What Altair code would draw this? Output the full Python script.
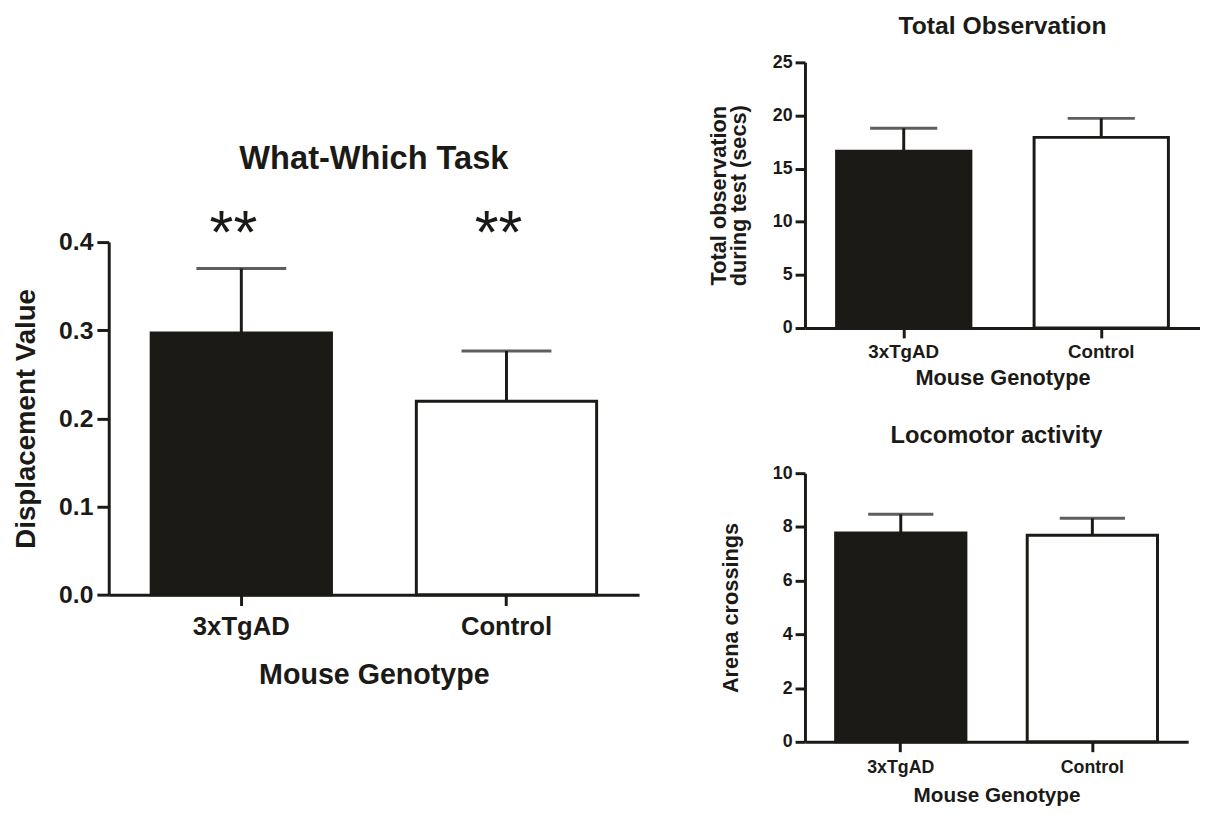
import altair as alt
import pandas as pd

# ---------------- data ----------------
genotypes = ["3xTgAD", "Control"]
fills = ["#1b1a17", "#ffffff"]

ww_mean = [0.297, 0.2195]
ww_sem = [0.073, 0.057]
ww_stars = ["**", "**"]

obs_mean = [16.64, 17.94]
obs_sem = [2.16, 1.79]

loco_mean = [7.77, 7.69]
loco_sem = [0.70, 0.63]

ww_ticks = [0.0, 0.1, 0.2, 0.3, 0.4]
obs_ticks = [0, 5, 10, 15, 20, 25]
loco_ticks = [0, 2, 4, 6, 8, 10]

INK = "#1b1a17"
FONT = "Liberation Sans"


def panel(mean, sem, title, ytitle, ticks, fmt, width, height, cap, s, stars=None):
    df = pd.DataFrame({
        "genotype": genotypes,
        "mean": mean,
        "upper": [m + e for m, e in zip(mean, sem)],
    })
    if stars is not None:
        df["stars"] = stars
    base = alt.Chart(df)
    x_axis = alt.Axis(title="Mouse Genotype", labelAngle=0, tickSize=s["xtick"],
                      labelPadding=s["xlabpad"], labelFontSize=s["xlab"],
                      titleFontSize=s["xtitle"], titlePadding=s["xtitlepad"])
    x_scale = alt.Scale(paddingInner=0.32, paddingOuter=0.16)
    y_axis = alt.Axis(title=ytitle, values=ticks, format=fmt, tickSize=s["ytick"],
                      labelPadding=s["ylabpad"], labelFontSize=s["ylab"],
                      titleFontSize=s["ytitle"], titlePadding=s["ytitlepad"],
                      titleLineHeight=s.get("ylh", 20))
    y_scale = alt.Scale(domain=[ticks[0], ticks[-1]], nice=False)
    x = alt.X("genotype:N", sort=genotypes, scale=x_scale, axis=x_axis)

    bars = base.mark_bar(stroke=INK, strokeWidth=3).encode(
        x=x,
        y=alt.Y("mean:Q", scale=y_scale, axis=y_axis),
        fill=alt.Fill("genotype:N", scale=alt.Scale(domain=genotypes, range=fills), legend=None),
    )
    stem = base.mark_rule(color=INK, strokeWidth=3).encode(
        x=x,
        y=alt.Y("mean:Q", scale=y_scale, axis=y_axis),
        y2="upper:Q",
    )
    capm = base.mark_tick(color=INK, thickness=3, size=cap, orient="horizontal").encode(
        x=x,
        y=alt.Y("upper:Q", scale=y_scale, axis=y_axis),
    )
    layers = [bars, stem, capm]
    if stars is not None:
        st = base.mark_text(font=FONT, fontSize=62, fontWeight="normal", baseline="alphabetic",
                            dy=11, dx=-8, color=INK).encode(
            x=x,
            y=alt.datum(ticks[-1]),
            text="stars:N",
        )
        layers.append(st)
    return alt.layer(*layers).properties(
        width=width, height=height,
        title=alt.TitleParams(title, fontSize=s["title"], offset=s["toff"], frame="group",
                              anchor="middle", font=FONT, fontWeight="bold", color=INK),
    )


left = panel(ww_mean, ww_sem, "What-Which Task", "Displacement Value", ww_ticks, ".1f",
             537, 357, 91,
             dict(xtick=11, xlabpad=8, xlab=26, xtitle=29, xtitlepad=22,
                  ytick=12, ylabpad=4, ylab=25, ytitle=28, ytitlepad=18,
                  title=33, toff=28),
             stars=ww_stars)

top_right = panel(obs_mean, obs_sem, "Total Observation",
                  ["Total observation", "during test (secs)"], obs_ticks, "d",
                  400, 269, 68,
                  dict(xtick=10, xlabpad=5, xlab=19, xtitle=22, xtitlepad=6,
                       ytick=10, ylabpad=3, ylab=18, ytitle=22, ytitlepad=22, ylh=20,
                       title=25, toff=15))

bottom_right = panel(loco_mean, loco_sem, "Locomotor activity", "Arena crossings",
                     loco_ticks, "d", 388, 272, 66,
                     dict(xtick=10, xlabpad=7, xlab=18, xtitle=21, xtitlepad=8,
                          ytick=10, ylabpad=3, ylab=18, ytitle=22, ytitlepad=30,
                          title=24, toff=17))

spacer = alt.Chart(pd.DataFrame({"s": [0]})).mark_rect(opacity=0).encode(
    x=alt.value(0), x2=alt.value(1), y=alt.value(0), y2=alt.value(1)
).properties(width=1, height=82)

left_col = alt.vconcat(spacer, left, spacing=0).resolve_scale(x="independent", y="independent")
right_col = alt.vconcat(top_right, bottom_right, spacing=36).resolve_scale(x="independent", y="independent")

chart = alt.hconcat(left_col, right_col, spacing=69).resolve_scale(
    x="independent", y="independent"
).properties(
    padding={"top": 1, "left": 5, "right": 0, "bottom": 0},
    background="white",
).configure_axis(
    domainColor=INK, domainWidth=3, tickColor=INK, tickWidth=3,
    labelColor=INK, titleColor=INK, labelFont=FONT, titleFont=FONT,
    labelFontWeight="bold", titleFontWeight="bold", grid=False,
).configure_view(stroke=None)

chart.save("out.html", embed_options={"renderer": "svg", "actions": False})
